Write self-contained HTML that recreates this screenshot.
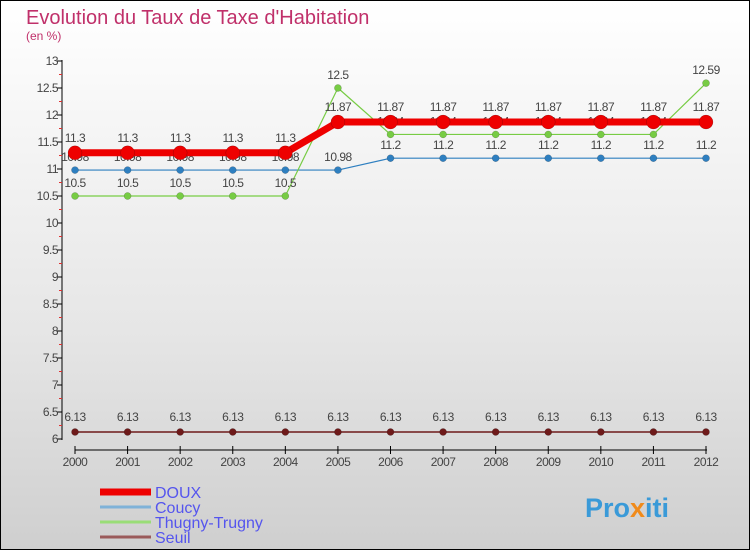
<!DOCTYPE html>
<html><head><meta charset="utf-8"><style>
body{margin:0}
#c{width:750px;height:550px;position:relative;box-sizing:border-box;border:1px solid #000;background:linear-gradient(#fff 0%,#e6e6e6 60%,#cfcfcf 100%);overflow:hidden;font-family:"Liberation Sans","DejaVu Sans",sans-serif}
</style></head><body>
<div id="c">
<svg id="s" width="750" height="550" style="position:absolute;left:-1px;top:-1px">
<text x="26" y="24" font-size="20" fill="#c0306a">Evolution du Taux de Taxe d'Habitation</text>
<text x="26" y="40" font-size="12" fill="#c0306a">(en %)</text>
<text x="585" y="517" font-size="27" font-weight="bold" fill="#3a9ad8">Pro<tspan fill="#f08a1a">x</tspan>iti</text>
</svg>
</div>
<script>
const years=[2000,2001,2002,2003,2004,2005,2006,2007,2008,2009,2010,2011,2012];
const doux=[11.3,11.3,11.3,11.3,11.3,11.87,11.87,11.87,11.87,11.87,11.87,11.87,11.87];
const coucy=[10.98,10.98,10.98,10.98,10.98,10.98,11.2,11.2,11.2,11.2,11.2,11.2,11.2];
const thugny=[10.5,10.5,10.5,10.5,10.5,12.5,11.64,11.64,11.64,11.64,11.64,11.64,12.59];
const seuil=[6.13,6.13,6.13,6.13,6.13,6.13,6.13,6.13,6.13,6.13,6.13,6.13,6.13];
const yTicks=[6,6.5,7,7.5,8,8.5,9,9.5,10,10.5,11,11.5,12,12.5,13];
const names=["DOUX","Coucy","Thugny-Trugny","Seuil"];
const NS="http://www.w3.org/2000/svg",s=document.getElementById('s');
const X=i=>75+i*(706-75)/(years.length-1);
const Y=v=>439-(v-6)*54;
function el(t,a,p){const e=document.createElementNS(NS,t);for(const k in a)e.setAttribute(k,a[k]);(p||s).appendChild(e);return e;}
let ax=el('line',{x1:62,y1:60,x2:62,y2:440,stroke:'#000'});


yTicks.forEach(v=>{
 el('line',{x1:57,x2:62,y1:Y(v),y2:Y(v),stroke:'#000'});
 if(v<13)el('line',{x1:59,x2:62,y1:Y(v+0.25),y2:Y(v+0.25),stroke:'#e03030'});
 const t=el('text',{x:58,y:Y(v)+4,'font-size':12,fill:'#444','text-anchor':'end','letter-spacing':'-0.5'});t.textContent=v;
 
 
});
let xa=el('line',{x1:75,y1:450,x2:707,y2:450,stroke:'#000'});


years.forEach((y,i)=>{
 el('line',{x1:X(i),x2:X(i),y1:446,y2:454,stroke:'#000'});
 const t=el('text',{x:X(i),y:466,'font-size':12,fill:'#444','text-anchor':'middle','letter-spacing':'-0.5'});t.textContent=y;
 
 
});
function series(data,color,w,r,name,lbl,dy){
 const g=el('g',{});
 
 
 el('polyline',{points:data.map((v,i)=>X(i)+','+Y(v)).join(' '),fill:'none',stroke:color,'stroke-width':w,'stroke-linejoin':'round'},g);
 data.forEach((v,i)=>{
  const c=el('circle',{cx:X(i),cy:Y(v),r:r,fill:color,stroke:'rgba(0,0,0,0.3)','stroke-width':0.5},g);
  
  
  if(lbl){const t=el('text',{x:X(i),y:Y(v)+dy,'font-size':12,fill:'#444','text-anchor':'middle','letter-spacing':'-0.5'},g);t.textContent=v;
  
  }
 });
}
series(seuil,'#6e1a1a',1.5,3.5,'seuil',true,-11);
series(coucy,'#2e7fc0',1.2,3.5,'coucy',true,-9);
series(thugny,'#77cc44',1.2,3.5,'thugny-trugny',true,-9);
series(doux,'#ee0000',7,7,'doux',true,-11);
const lc=['#ee0000','#7fb2d8','#99dd77','#9a5a5a'],lw=[7,3,3,3],ly=[492,507,522,537];
names.forEach((n,i)=>{
 const g=el('g',{});
 
 
 el('line',{x1:100,x2:151,y1:ly[i],y2:ly[i],stroke:lc[i],'stroke-width':lw[i]},g);
 const t=el('text',{x:155,y:ly[i]+6,'font-size':16,fill:'#5555ee'},g);t.textContent=n;
});
</script>
</body></html>
